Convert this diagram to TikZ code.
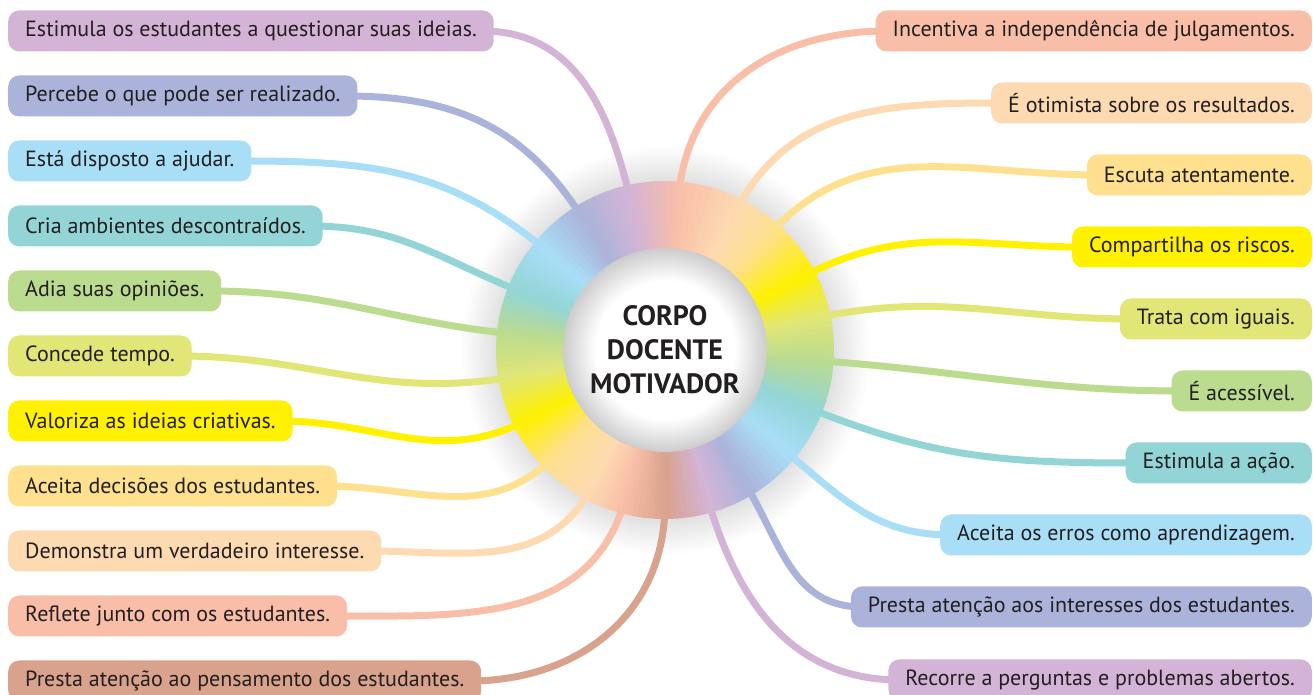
\documentclass[tikz,border=0pt]{standalone}
\usepackage{fontspec}
\setmainfont{PT Sans}
\usetikzlibrary{calc}

\definecolor{ink}{HTML}{231F20}
\definecolor{mauve}{HTML}{D3B4D6}
\definecolor{bluepurple}{HTML}{ABB3DA}
\definecolor{lightblue}{HTML}{A9DEF7}
\definecolor{teal}{HTML}{93D5D6}
\definecolor{green}{HTML}{BBDB8F}
\definecolor{yellowgreen}{HTML}{E1E677}
\definecolor{yellow}{HTML}{FFF100}
\definecolor{lightorange}{HTML}{FEE08F}
\definecolor{peach}{HTML}{FDDAB2}
\definecolor{salmon}{HTML}{F9BEA8}
\definecolor{darksalmon}{HTML}{D9A28C}

\pgfdeclarelayer{glow}
\pgfdeclarelayer{lines}
\pgfdeclarelayer{disc}
\pgfsetlayers{glow,lines,disc,main}

% soft grey halo round the ring, and the hollow in its middle
\pgfdeclareradialshading{haze}{\pgfpointorigin}{color(0bp)=(black!12); color(20.6bp)=(black!12); color(25bp)=(white); color(50bp)=(white)}
\pgfdeclareradialshading{hollow}{\pgfpointorigin}{color(0bp)=(white); color(17bp)=(white); color(25bp)=(black!20); color(50bp)=(black!20)}

\begin{document}
\begin{tikzpicture}[x=1pt, y=1pt,
    item node/.style={rounded corners=11pt, minimum height=41pt, inner xsep=17pt, inner ysep=0pt, text=ink, font=\fontsize{22}{26}\selectfont},
    link/.style={line width=7pt, draw=#1, shorten <=-12pt, shorten >=-16pt},
    hub node/.style={circle, minimum size=338pt, inner sep=0pt}]

    \useasboundingbox (0,0) rectangle (1313,695);

    \node[hub node] (ring) at (665,345) {};

    % left column
    \node[item node, fill=mauve, anchor=west] at (8,664) (l1) {Estimula os estudantes a questionar suas ideias.};
    \node[item node, fill=bluepurple, anchor=west] at (8,599) (l2) {Percebe o que pode ser realizado.};
    \node[item node, fill=lightblue, anchor=west] at (8,534) (l3) {Está disposto a ajudar.};
    \node[item node, fill=teal, anchor=west] at (8,469) (l4) {Cria ambientes descontraídos.};
    \node[item node, fill=green, anchor=west] at (8,404) (l5) {Adia suas opiniões.};
    \node[item node, fill=yellowgreen, anchor=west] at (8,339) (l6) {Concede tempo.};
    \node[item node, fill=yellow, anchor=west] at (8,274) (l7) {Valoriza as ideias criativas.};
    \node[item node, fill=lightorange, anchor=west] at (8,209) (l8) {Aceita decisões dos estudantes.};
    \node[item node, fill=peach, anchor=west] at (8,144) (l9) {Demonstra um verdadeiro interesse.};
    \node[item node, fill=salmon, anchor=west] at (8,79) (l10) {Reflete junto com os estudantes.};
    \node[item node, fill=darksalmon, anchor=west] at (8,14) (l11) {Presta atenção ao pensamento dos estudantes.};

    % right column
    \node[item node, fill=salmon, anchor=east] at (1312,664) (r1) {Incentiva a independência de julgamentos.};
    \node[item node, fill=peach, anchor=east] at (1312,592) (r2) {É otimista sobre os resultados.};
    \node[item node, fill=lightorange, anchor=east] at (1312,520) (r3) {Escuta atentamente.};
    \node[item node, fill=yellow, anchor=east] at (1312,448) (r4) {Compartilha os riscos.};
    \node[item node, fill=yellowgreen, anchor=east] at (1312,376) (r5) {Trata com iguais.};
    \node[item node, fill=green, anchor=east] at (1312,304) (r6) {É acessível.};
    \node[item node, fill=teal, anchor=east] at (1312,232) (r7) {Estimula a ação.};
    \node[item node, fill=lightblue, anchor=east] at (1312,160) (r8) {Aceita os erros como aprendizagem.};
    \node[item node, fill=bluepurple, anchor=east] at (1312,88) (r9) {Presta atenção aos interesses dos estudantes.};
    \node[item node, fill=mauve, anchor=east] at (1312,15) (r10) {Recorre a perguntas e problemas abertos.};

    \begin{pgfonlayer}{glow}
        \shade[shading=haze] (ring.center) circle (205);
    \end{pgfonlayer}

    \begin{pgfonlayer}{lines}
        \path (l1) edge[link=mauve, out=0, in=103] (ring.103);
        \path (l2) edge[link=bluepurple, out=0, in=122] (ring.122);
        \path (l3) edge[link=lightblue, out=0, in=140] (ring.140);
        \path (l4) edge[link=teal, out=0, in=158] (ring.158);
        \path (l5) edge[link=green, out=0, in=174] (ring.174);
        \path (l6) edge[link=yellowgreen, out=0, in=190] (ring.190);
        \path (l7) edge[link=yellow, out=0, in=207] (ring.207);
        \path (l8) edge[link=lightorange, out=0, in=224] (ring.224);
        \path (l9) edge[link=peach, out=0, in=242] (ring.242);
        \path (l10) edge[link=salmon, out=0, in=255] (ring.255);
        \path (l11) edge[link=darksalmon, out=0, in=270] (ring.270);

        \path (r1) edge[link=salmon, out=180, in=85] (ring.85);
        \path (r2) edge[link=peach, out=180, in=63] (ring.63);
        \path (r3) edge[link=lightorange, out=180, in=48] (ring.48);
        \path (r4) edge[link=yellow, out=180, in=28] (ring.28);
        \path (r5) edge[link=yellowgreen, out=180, in=12] (ring.12);
        \path (r6) edge[link=green, out=180, in=-4] (ring.-4);
        \path (r7) edge[link=teal, out=180, in=-22] (ring.-22);
        \path (r8) edge[link=lightblue, out=180, in=-40] (ring.-40);
        \path (r9) edge[link=bluepurple, out=180, in=-59] (ring.-59);
        \path (r10) edge[link=mauve, out=180, in=-74] (ring.-74);
    \end{pgfonlayer}

    % colour wheel, blended from one spoke colour to the next
    \begin{pgfonlayer}{disc}
        \begin{scope}[shift={(ring.center)}]
            \foreach \a/\b/\ca/\cb in {270/286/darksalmon/mauve, 286/301/mauve/bluepurple,
                301/320/bluepurple/lightblue, 320/338/lightblue/teal, 338/356/teal/green,
                356/372/green/yellowgreen, 372/388/yellowgreen/yellow, 388/408/yellow/lightorange,
                408/423/lightorange/peach, 423/445/peach/salmon, 445/463/salmon/mauve,
                463/482/mauve/bluepurple, 482/500/bluepurple/lightblue, 500/518/lightblue/teal,
                518/534/teal/green, 534/550/green/yellowgreen, 550/567/yellowgreen/yellow,
                567/584/yellow/lightorange, 584/602/lightorange/peach, 602/615/peach/salmon,
                615/630/salmon/darksalmon}{
                \foreach \k in {0,...,7}{
                    \pgfmathsetmacro\s{\a+(\b-\a)*\k/8}
                    \pgfmathsetmacro\e{\a+(\b-\a)*(\k+1)/8+0.4}
                    \pgfmathtruncatemacro\p{(\k+0.5)*12.5}
                    \fill[\cb!\p!\ca] (\s:169) arc[start angle=\s, end angle=\e, radius=169]
                        -- (\e:101) arc[start angle=\e, end angle=\s, radius=101] -- cycle;
                }
            }
            \shade[shading=hollow] (0,0) circle (102);
        \end{scope}
    \end{pgfonlayer}

    \node[align=center, text=ink, font=\fontsize{28}{34}\selectfont\bfseries] (title) at (ring.center) {CORPO\\DOCENTE\\MOTIVADOR};
\end{tikzpicture}
\end{document}
